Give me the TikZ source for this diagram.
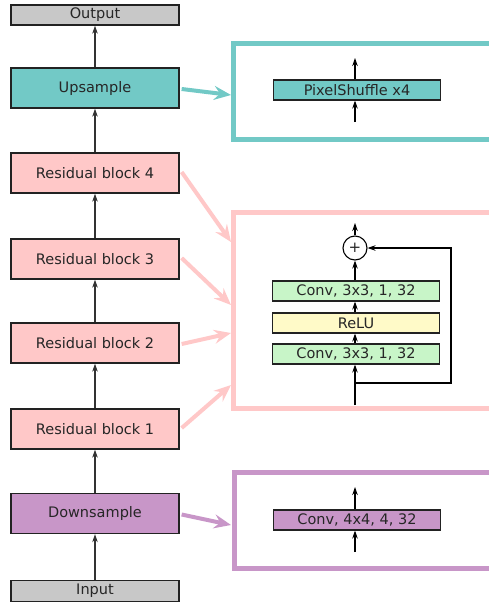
\documentclass[tikz,border=0pt]{standalone}
\usepackage{fontspec}
\setmainfont{DejaVu Sans}
\usetikzlibrary{arrows.meta}
\definecolor{cgray}{HTML}{C8C8C8}
\definecolor{cteal}{HTML}{72C9C6}
\definecolor{cpink}{HTML}{FFC8C8}
\definecolor{cgreen}{HTML}{C8F5C8}
\definecolor{cyellow}{HTML}{FFFAC8}
\definecolor{cpurple}{HTML}{C896C8}
\definecolor{cedge}{HTML}{222222}
\begin{document}
\begin{tikzpicture}[x=1pt,y=-1pt,
  every node/.style={font=\fontsize{14.5}{16}\selectfont, text=black!85},
  blk/.style={draw=cedge, line width=1.3pt, minimum width=168pt, inner sep=0pt},
  tall/.style={blk, minimum height=40pt},
  flat/.style={blk, minimum height=20pt},
  small/.style={draw=cedge, line width=1.1pt, minimum width=167pt, minimum height=20pt, inner sep=0pt},
  flow/.style={draw=black!80, line width=1.3pt, -{Stealth[length=8pt,width=5.5pt]}},
  iflow/.style={draw=black, line width=1.1pt, -{Stealth[length=8pt,width=5.5pt]}},
  fat/.style={line width=4pt, -{Stealth[length=17pt,width=14pt,inset=6pt]}},
  panel/.style={line width=5pt}
]
\path[use as bounding box] (0,0) rectangle (489,603);

% left column
\node[flat, fill=cgray] (out) at (95,15) {Output};
\node[tall, fill=cteal] (up) at (95,88) {Upsample};
\node[tall, fill=cpink] (r4) at (95,173) {Residual block 4};
\node[tall, fill=cpink] (r3) at (95,259) {Residual block 3};
\node[tall, fill=cpink] (r2) at (95,343) {Residual block 2};
\node[tall, fill=cpink] (r1) at (95,429) {Residual block 1};
\node[tall, fill=cpurple] (down) at (95,513.5) {Downsample};
\node[flat, fill=cgray, minimum height=21pt] (in) at (95,591) {Input};

\draw[flow] (in) -- (down);
\draw[flow] (down) -- (r1);
\draw[flow] (r1) -- (r2);
\draw[flow] (r2) -- (r3);
\draw[flow] (r3) -- (r4);
\draw[flow] (r4) -- (up);
\draw[flow] (up) -- (out);

% panels
\begin{scope}
\clip (0,0) rectangle (489,603);
\draw[panel, cteal] (233,43) rectangle (530,139);
\draw[panel, cpink] (233,212) rectangle (530,408);
\draw[panel, cpurple] (234,472) rectangle (530,568);
\end{scope}

% upsample panel
\node[small, fill=cteal] (ps) at (357,90) {PixelShuffle x4};
\coordinate (psin) at (355,122);
\coordinate (psout) at (355,58);
\draw[iflow] (psin) -- (ps.south -| psin);
\draw[iflow] (ps.north -| psin) -- (psout);

% residual panel
\node[small, fill=cgreen] (c2) at (356,291) {Conv, 3x3, 1, 32};
\node[small, fill=cyellow] (relu) at (356,323) {ReLU};
\node[small, fill=cgreen] (c1) at (356,354) {Conv, 3x3, 1, 32};
\node[draw=black, line width=1.1pt, circle, minimum size=24pt, inner sep=0pt, font=\fontsize{15}{15}\selectfont] (plus) at (355,248) {+};
\coordinate (rin) at (355,405);
\coordinate (rsplit) at (355,383);
\coordinate (rright) at (451,383);
\coordinate (rout) at (355,223);
\draw[iflow] (rin) -- (c1.south -| rin);
\draw[iflow] (c1.north -| rin) -- (relu.south -| rin);
\draw[iflow] (relu.north -| rin) -- (c2.south -| rin);
\draw[iflow] (c2.north -| rin) -- (plus);
\draw[iflow] (plus) -- (rout);
\draw[iflow] (rsplit) -- (rright) |- (plus);

% downsample panel
\node[small, fill=cpurple] (cd) at (357,520) {Conv, 4x4, 4, 32};
\coordinate (cdin) at (355,552);
\coordinate (cdout) at (355,487);
\draw[iflow] (cdin) -- (cd.south -| cdin);
\draw[iflow] (cd.north -| cdin) -- (cdout);

% fat arrows
\coordinate (eup) at (231,95);
\coordinate (e4) at (231,242);
\coordinate (e3) at (231,305);
\coordinate (e2) at (231,333);
\coordinate (e1) at (231,385);
\coordinate (edown) at (231,525);
\draw[fat, cteal] ([xshift=2pt,yshift=-1pt]up.east) -- (eup);
\draw[fat, cpink] ([xshift=2pt,yshift=1pt]r4.east) -- (e4);
\draw[fat, cpink] ([xshift=2pt,yshift=1pt]r3.east) -- (e3);
\draw[fat, cpink] ([xshift=2pt,yshift=-1pt]r2.east) -- (e2);
\draw[fat, cpink] ([xshift=2pt,yshift=1pt]r1.east) -- (e1);
\draw[fat, cpurple] ([xshift=2pt,yshift=-1pt]down.east) -- (edown);
\end{tikzpicture}
\end{document}
